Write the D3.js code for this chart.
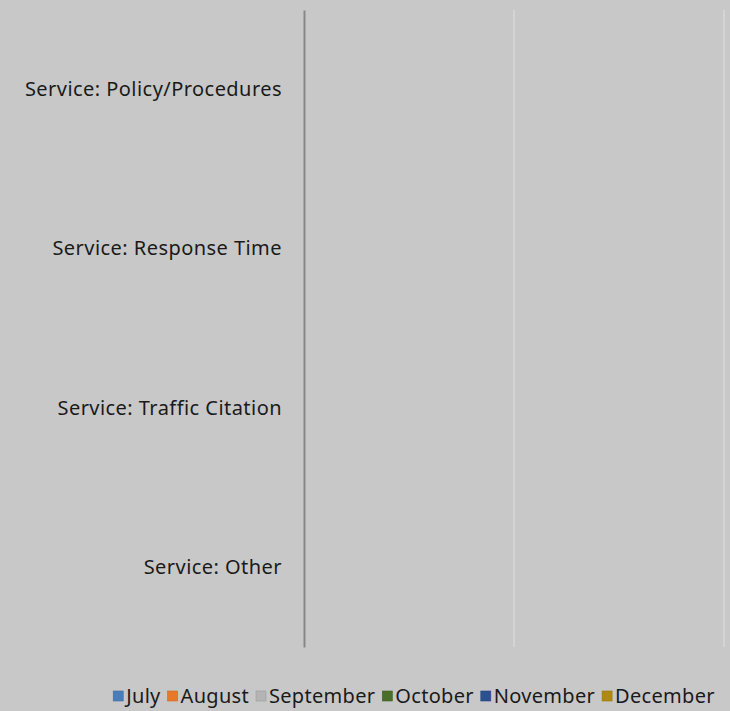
<!DOCTYPE html>
<html>
<head>
<meta charset="utf-8">
<script src="https://cdn.jsdelivr.net/npm/d3@7"></script>
<style>
  body { margin: 0; background: #c8c8c8; }
  svg { display: block; }
  text { font-family: "Noto Sans", "Open Sans", sans-serif; fill: #1a1a1a; }
</style>
</head>
<body>
<div id="wrapper"></div>
<script>
// categories, top to bottom
const categories = ['Service: Policy/Procedures', 'Service: Response Time', 'Service: Traffic Citation', 'Service: Other']
const months = ['July', 'August', 'September', 'October', 'November', 'December']
const monthColors = ['#4a7ebb', '#e8782a', '#b4b4b4', '#4a6f2a', '#2d5190', '#b08a10']
// every month has no count for these categories
const julyValues = [0, 0, 0, 0]
const augustValues = [0, 0, 0, 0]
const septemberValues = [0, 0, 0, 0]
const octoberValues = [0, 0, 0, 0]
const novemberValues = [0, 0, 0, 0]
const decemberValues = [0, 0, 0, 0]
const xTicks = [0, 1, 2]

const seriesValues = [julyValues, augustValues, septemberValues, octoberValues, novemberValues, decemberValues]

function drawChart() {
    const width = 730
    const height = 711
    const margin = { top: 10, right: 6, bottom: 64, left: 304 }

    const svg = d3.select('#wrapper').append('svg')
        .attr('width', width)
        .attr('height', height)

    svg.append('rect').attr('width', width).attr('height', height).attr('fill', '#c8c8c8')

    const boundedHeight = height - margin.top - margin.bottom

    const bounds = svg.append('g')
        .attr('transform', `translate(${margin.left},${margin.top})`)

    // scales
    const y = d3.scaleBand().domain(categories).range([0, boundedHeight])
    const x = d3.scaleLinear().domain([0, d3.max(xTicks)]).range([0, 420])
    const yInner = d3.scaleBand().domain(months).range([0, y.bandwidth()]).paddingInner(0).paddingOuter(1.2)

    // gridlines
    bounds.selectAll('.grid')
        .data(xTicks.slice(1))
        .enter().append('line')
        .attr('class', 'grid')
        .attr('x1', d => x(d)).attr('x2', d => x(d))
        .attr('y1', 0).attr('y2', boundedHeight)
        .attr('stroke', '#d9d9d9')
        .attr('stroke-width', 1.5)

    // bars (all zero width)
    months.forEach((m, i) => {
        bounds.selectAll('.bar-' + i)
            .data(seriesValues[i])
            .enter().append('rect')
            .attr('class', 'bar-' + i)
            .attr('x', x(0))
            .attr('y', (d, j) => y(categories[j]) + yInner(m))
            .attr('width', d => x(d) - x(0))
            .attr('height', yInner.bandwidth())
            .attr('fill', monthColors[i])
    })

    // category axis
    const yAxis = bounds.append('g').call(d3.axisLeft(y).tickSize(0).tickPadding(22))
    yAxis.select('.domain').attr('stroke', '#878787').attr('stroke-width', 2)
    yAxis.selectAll('text')
        .style('font-size', '20px')
        .style('letter-spacing', '0.45px')
        .style('font-family', '"Noto Sans", sans-serif')
        .attr('fill', '#1a1a1a')

    // legend
    const legend = svg.append('g').attr('class', 'legend')
    const items = legend.selectAll('.item')
        .data(months)
        .enter().append('g')
        .attr('class', 'item')
    items.append('rect')
        .attr('width', 10).attr('height', 10)
        .attr('y', -12)
        .attr('fill', (d, i) => monthColors[i])
        .attr('stroke', (d, i) => d3.color(monthColors[i]).darker(0.4))
        .attr('stroke-width', 0.6)
    items.append('text')
        .attr('x', 13)
        .style('font-size', '20px')
        .style('letter-spacing', '0.3px')
        .text(d => d)

    let cursor = 0
    items.each(function () {
        const g = d3.select(this)
        g.attr('transform', `translate(${cursor},0)`)
        cursor += 13 + g.select('text').node().getComputedTextLength() + 7
    })
    const total = cursor - 7
    legend.attr('transform', `translate(${414 - total / 2},703)`)
}

drawChart()
</script>
</body>
</html>
